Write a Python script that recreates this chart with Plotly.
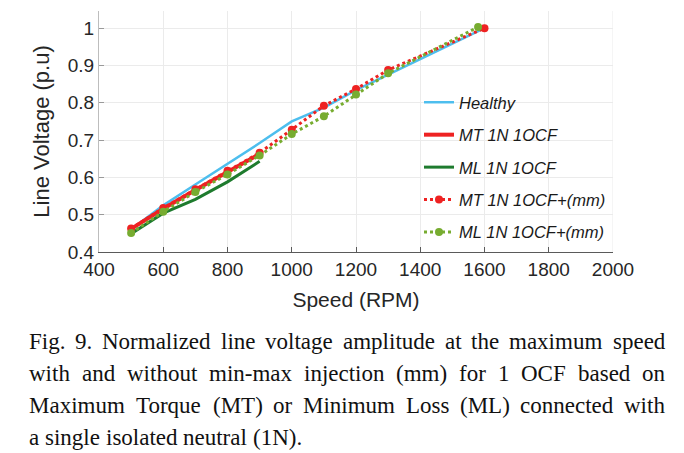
import plotly.graph_objects as go

# ---------------- data ----------------
speed_healthy = [500, 600, 700, 800, 900, 1000, 1100, 1200, 1300, 1400, 1500, 1600]
v_healthy = [0.460, 0.525, 0.581, 0.636, 0.692, 0.750, 0.787, 0.834, 0.876, 0.918, 0.959, 1.000]

speed_mt = [500, 600, 700, 800, 900]
v_mt = [0.462, 0.516, 0.566, 0.615, 0.663]

speed_ml = [500, 600, 700, 800, 900]
v_ml = [0.449, 0.504, 0.541, 0.588, 0.643]

speed_mt_mm = [500, 600, 700, 800, 900, 1000, 1100, 1200, 1300, 1600]
v_mt_mm = [0.463, 0.518, 0.568, 0.618, 0.666, 0.728, 0.792, 0.837, 0.888, 1.000]

speed_ml_mm = [500, 600, 700, 800, 900, 1000, 1100, 1200, 1300, 1580]
v_ml_mm = [0.451, 0.508, 0.561, 0.608, 0.659, 0.716, 0.764, 0.822, 0.879, 1.003]

x_ticks = [400, 600, 800, 1000, 1200, 1400, 1600, 1800, 2000]
y_ticks = [0.4, 0.5, 0.6, 0.7, 0.8, 0.9, 1.0]
y_tick_labels = ["0.4", "0.5", "0.6", "0.7", "0.8", "0.9", "1"]

caption_lines = [
    "Fig. 9. Normalized line voltage amplitude at the maximum speed",
    "with and without min-max injection (mm) for 1 OCF based on",
    "Maximum Torque (MT) or Minimum Loss (ML) connected with",
    "a single isolated neutral (1N).",
]
caption_justify = [True, True, True, False]

# ---------------- layout constants ----------------
W, H = 684, 453
L, R, T, B = 99, 71, 11, 201
PW, PH = W - L - R, H - T - B

SANS = "Liberation Sans, Arial, sans-serif"
SERIF = "Liberation Serif, Times New Roman, serif"
TXT = "#262626"
GRID = "#EBEBEB"

fig = go.Figure()

fig.add_trace(go.Scatter(x=speed_healthy, y=v_healthy, mode="lines", name="Healthy",
                         legendgroup="a", line=dict(color="#4DBEEE", width=2.5)))
fig.add_trace(go.Scatter(x=speed_mt, y=v_mt, mode="lines", name="MT 1N 1OCF",
                         legendgroup="b", line=dict(color="#EE2222", width=4)))
fig.add_trace(go.Scatter(x=speed_ml, y=v_ml, mode="lines", name="ML 1N 1OCF",
                         legendgroup="c", line=dict(color="#1E7B2E", width=3)))
fig.add_trace(go.Scatter(x=speed_mt_mm, y=v_mt_mm, mode="lines+markers", name="MT 1N 1OCF+(mm)",
                         legendgroup="d", line=dict(color="#EE2222", width=3, dash="3px,3px"),
                         marker=dict(color="#EE2222", size=8, symbol="circle")))
fig.add_trace(go.Scatter(x=speed_ml_mm, y=v_ml_mm, mode="lines+markers", name="ML 1N 1OCF+(mm)",
                         legendgroup="e", line=dict(color="#77AC30", width=3, dash="3px,3px"),
                         marker=dict(color="#77AC30", size=8, symbol="circle")))

# ---------------- caption (justified, Times metrics) ----------------
TIMES = {" ": 250, "a": 444, "b": 500, "c": 444, "d": 500, "e": 444, "f": 333, "g": 500,
         "h": 500, "i": 278, "j": 278, "k": 500, "l": 278, "m": 778, "n": 500, "o": 500,
         "p": 500, "q": 500, "r": 333, "s": 389, "t": 278, "u": 500, "v": 500, "w": 722,
         "x": 500, "y": 500, "z": 444, "A": 722, "B": 667, "C": 667, "D": 722, "E": 611,
         "F": 556, "G": 722, "H": 722, "I": 333, "J": 389, "K": 722, "L": 611, "M": 889,
         "N": 722, "O": 722, "P": 556, "Q": 722, "R": 667, "S": 556, "T": 611, "U": 722,
         "V": 722, "W": 944, "X": 722, "Y": 722, "Z": 611, ".": 250, ",": 250, "(": 333,
         ")": 333, "-": 333, "+": 564}
CAP_SIZE = 23
CAP_LEFT, CAP_RIGHT = 28, 664
CAP_Y0, CAP_DY = 341, 32


def tw(s):
    return sum(TIMES.get(c, 500) for c in s) * CAP_SIZE / 1000.0


def px_to_paper_x(px):
    return (px - L) / PW


def px_to_paper_y(py):
    return (H - B - py) / PH


annotations = []
for i, (line, just) in enumerate(zip(caption_lines, caption_justify)):
    py = CAP_Y0 + i * CAP_DY
    words = line.split(" ")
    widths = [tw(w) for w in words]
    if just and len(words) > 1:
        gap = (CAP_RIGHT - CAP_LEFT - sum(widths)) / (len(words) - 1)
    else:
        gap = tw(" ")
    x = CAP_LEFT
    for w, wd in zip(words, widths):
        annotations.append(dict(text=w, x=px_to_paper_x(x), y=px_to_paper_y(py),
                                xref="paper", yref="paper", xanchor="left", yanchor="middle",
                                showarrow=False, borderpad=0,
                                font=dict(family=SERIF, size=CAP_SIZE, color="#111111")))
        x += wd + gap

fig.update_layout(
    width=W, height=H,
    margin=dict(l=L, r=R, t=T, b=B, pad=0),
    paper_bgcolor="white", plot_bgcolor="white",
    font=dict(family=SANS, color=TXT),
    showlegend=True,
    legend=dict(x=px_to_paper_x(419), y=px_to_paper_y(85), xanchor="left", yanchor="top",
                bgcolor="rgba(0,0,0,0)", borderwidth=0, itemwidth=30, tracegroupgap=8,
                font=dict(family=SANS, size=16.5, color="#1a1a1a", style="italic")),
    annotations=annotations,
    shapes=[dict(type="line", xref="x", yref="paper", x0=2000, x1=2000, y0=0, y1=1,
                 line=dict(color=GRID, width=1), layer="below")],
)

fig.update_xaxes(range=[400, 2000], tickvals=x_ticks, ticktext=[str(v) for v in x_ticks],
                 showgrid=True, gridcolor=GRID, gridwidth=1, zeroline=False,
                 showline=True, linecolor="#5a5a5a", linewidth=1,
                 ticks="inside", ticklen=5, tickcolor="#5a5a5a",
                 tickfont=dict(family=SANS, size=19, color=TXT),
                 title=dict(text="Speed (RPM)", font=dict(family=SANS, size=21, color=TXT), standoff=13))
fig.update_yaxes(range=[0.4, 1.046], tickvals=y_ticks, ticktext=y_tick_labels,
                 showgrid=True, gridcolor=GRID, gridwidth=1, zeroline=False,
                 showline=True, linecolor="#BDBDBD", linewidth=1,
                 ticks="inside", ticklen=5, tickcolor="#9a9a9a",
                 tickfont=dict(family=SANS, size=19, color=TXT),
                 title=dict(text="Line Voltage (p.u)", font=dict(family=SANS, size=22, color=TXT), standoff=12))

fig.write_html("out.html", config={"displayModeBar": False},
               post_script="document.body.style.margin='0px';document.body.style.overflow='hidden';")
